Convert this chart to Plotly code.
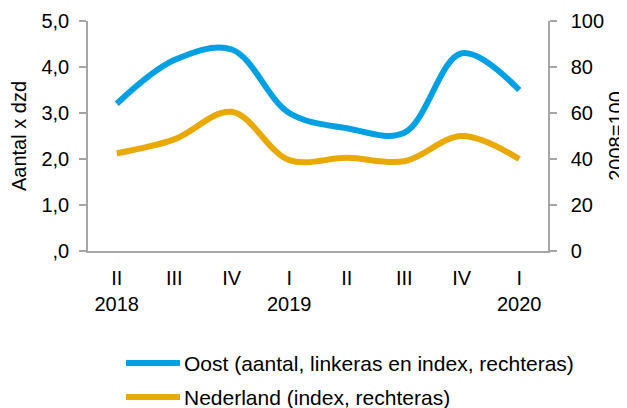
import plotly.graph_objects as go

quarters = ["II", "III", "IV", "I", "II", "III", "IV", "I"]
years = ["2018", "", "", "2019", "", "", "", "2020"]
oost = [3.2, 4.15, 4.38, 3.0, 2.67, 2.57, 4.3, 3.5]          # left axis (aantal x dzd)
nederland = [42.5, 48.5, 60.5, 39.5, 40.5, 39.0, 50.0, 40.0]  # right axis (2008=100)
left_ticks = [0, 1, 2, 3, 4, 5]
left_ticktext = [",0", "1,0", "2,0", "3,0", "4,0", "5,0"]
right_ticks = [0, 20, 40, 60, 80, 100]
legend_names = ["Oost (aantal, linkeras en index, rechteras)", "Nederland (index, rechteras)"]

BLUE = "#00A0E2"
ORANGE = "#E9A900"
GREY = "#A6A6A6"
FONT = "Liberation Sans, Arial, sans-serif"
FS = 20

xs = list(range(len(quarters)))
ticktext = [q + ("<br>" + y if y else "") for q, y in zip(quarters, years)]

fig = go.Figure()
fig.add_trace(go.Scatter(x=xs, y=oost, mode="lines", name=legend_names[0],
                         line=dict(color=BLUE, width=6, shape="spline", smoothing=1.0),
                         yaxis="y", showlegend=False))
fig.add_trace(go.Scatter(x=xs, y=nederland, mode="lines", name=legend_names[1],
                         line=dict(color=ORANGE, width=6, shape="spline", smoothing=1.0),
                         yaxis="y2", showlegend=False))

# page is shown with an 8px body margin, so work in screen pixels minus that offset
OFF = 8
W, H = 627 - OFF, 408 - OFF
L, R, T, B = 88 - OFF, 548 - OFF, 21 - OFF, 251 - OFF
pw, ph = R - L, B - T

def px_x(p):
    return (p - OFF - L) / pw

def px_y(p):
    return (B - (p - OFF)) / ph

shapes = []
annotations = []
for i, (name, col) in enumerate(zip(legend_names, [BLUE, ORANGE])):
    yy = [363, 397][i]
    shapes.append(dict(type="line", xref="paper", yref="paper",
                       x0=px_x(126), x1=px_x(180), y0=px_y(yy), y1=px_y(yy),
                       line=dict(color=col, width=6)))
    annotations.append(dict(text=name, xref="paper", yref="paper",
                            x=px_x(182), y=px_y(yy), xanchor="left", yanchor="middle",
                            showarrow=False, font=dict(family=FONT, size=21, color="#000000")))

fig.update_layout(
    width=W, height=H,
    margin=dict(l=L, r=W - R, t=T, b=H - B),
    paper_bgcolor="white", plot_bgcolor="white",
    font=dict(family=FONT, size=FS, color="#000000"),
    showlegend=False,
    xaxis=dict(range=[-0.5, len(quarters) - 0.5], tickmode="array", tickvals=xs, ticktext=ticktext,
               showgrid=False, zeroline=False, showline=True, linecolor=GREY, linewidth=1.5,
               ticks="", tickfont=dict(size=FS), ticklabelstandoff=8, automargin=False,
               fixedrange=True),
    yaxis=dict(range=[0, 5], tickmode="array", tickvals=left_ticks, ticktext=left_ticktext,
               showgrid=False, zeroline=False, showline=True, linecolor=GREY, linewidth=1.5,
               ticks="outside", ticklen=7, tickcolor=GREY, tickwidth=1.5,
               ticklabelstandoff=6, automargin=False,
               title=dict(text="Aantal x dzd", font=dict(size=FS), standoff=10),
               tickfont=dict(size=FS)),
    yaxis2=dict(range=[0, 100], overlaying="y", side="right", tickmode="array", tickvals=right_ticks,
                showgrid=False, zeroline=False, showline=True, linecolor=GREY, linewidth=1.5,
                ticks="outside", ticklen=7, tickcolor=GREY, tickwidth=1.5,
                ticklabelstandoff=10, automargin=False,
                title=dict(text="2008=100", font=dict(size=FS), standoff=8),
                tickfont=dict(size=FS)),
    shapes=shapes,
    annotations=annotations,
)

fig.write_html("out.html")
